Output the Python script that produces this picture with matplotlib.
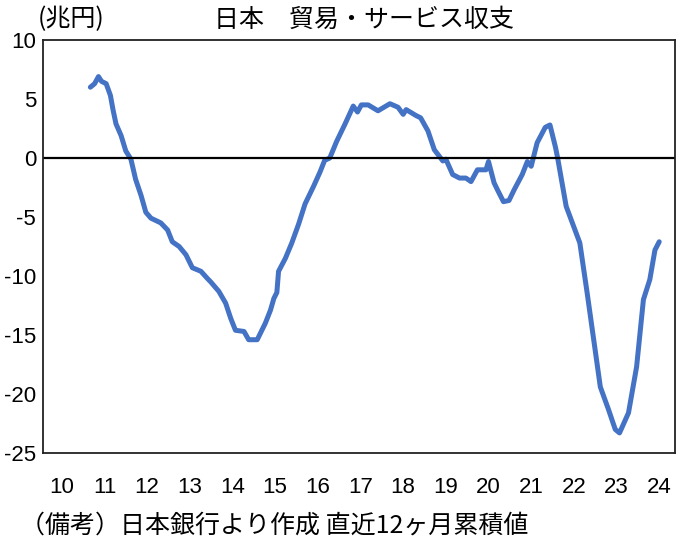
import matplotlib.pyplot as plt

# rolling 12-month trade & services balance (trillion yen)
years = [10.67, 10.77, 10.86, 10.93, 11.04, 11.14, 11.20, 11.27, 11.39, 11.50,
         11.62, 11.73, 11.86, 11.97, 12.09, 12.32, 12.48, 12.59, 12.75, 12.91,
         13.06, 13.26, 13.41, 13.49, 13.68, 13.84, 13.96, 14.07, 14.27, 14.38,
         14.58, 14.77, 14.89, 14.97, 15.04, 15.08, 15.24, 15.39, 15.55, 15.70,
         15.90, 16.05, 16.16, 16.28, 16.44, 16.64, 16.83, 16.93, 17.02, 17.18,
         17.41, 17.69, 17.88, 18.00, 18.07, 18.30, 18.41, 18.58, 18.73, 18.93,
         19.00, 19.16, 19.32, 19.47, 19.59, 19.74, 19.94, 20.00, 20.13, 20.21,
         20.35, 20.48, 20.60, 20.79, 20.91, 21.00, 21.14, 21.33, 21.44, 21.57,
         21.62, 21.82, 22.14, 22.31, 22.50, 22.62, 22.81, 22.97, 23.07, 23.28,
         23.47, 23.63, 23.78, 23.90, 24.00]
balance = [6.0, 6.3, 6.9, 6.5, 6.3, 5.3, 4.1, 2.9, 1.9, 0.6,
           -0.1, -1.8, -3.2, -4.6, -5.1, -5.5, -6.1, -7.1, -7.5, -8.2,
           -9.3, -9.6, -10.2, -10.5, -11.3, -12.3, -13.6, -14.6, -14.7, -15.4,
           -15.4, -14.0, -12.9, -11.9, -11.4, -9.6, -8.5, -7.2, -5.6, -3.9,
           -2.4, -1.2, -0.2, 0.0, 1.4, 2.9, 4.4, 3.9, 4.5, 4.5,
           4.0, 4.6, 4.3, 3.7, 4.1, 3.6, 3.4, 2.3, 0.7, -0.25,
           -0.1, -1.4, -1.7, -1.7, -2.0, -1.0, -1.0, -0.3, -2.1, -2.7,
           -3.7, -3.6, -2.7, -1.4, -0.3, -0.7, 1.3, 2.6, 2.8, 0.9,
           0.0, -4.1, -7.2, -11.4, -16.3, -19.4, -21.3, -23.0, -23.3, -21.6,
           -17.7, -12.0, -10.3, -7.8, -7.1]

xticks = list(range(10, 25))
yticks = [10, 5, 0, -5, -10, -15, -20, -25]

jp = ["Noto Sans CJK JP", "DejaVu Sans"]
num = ["Liberation Sans", "DejaVu Sans"]

fig = plt.figure(figsize=(6.87, 5.55), dpi=100)
ax = fig.add_axes([43 / 687, 1 - 453 / 555, 632 / 687, 413 / 555])

ax.plot(years, balance, color="#4472C4", linewidth=3.6, solid_capstyle="round",
        solid_joinstyle="round")
ax.axhline(0, color="black", linewidth=1.6)

ax.set_xlim(9.56, 24.37)
ax.set_ylim(-25, 10)
ax.set_xticks(xticks)
ax.set_xticklabels([str(t) for t in xticks], family=num, fontsize=16)
ax.set_yticks(yticks)
ax.set_yticklabels([str(t) for t in yticks], family=num, fontsize=16)
ax.tick_params(axis="both", length=0)
ax.tick_params(axis="x", pad=17)
ax.tick_params(axis="y", pad=5)
for s in ax.spines.values():
    s.set_linewidth(1.3)
    s.set_color("#222222")

fig.text(364 / 687, 0.965, "日本　貿易・サービス収支", family=jp, fontsize=18,
         ha="center", va="center")
fig.text(38 / 687, 0.965, "(兆円)", family=jp, fontsize=18,
         ha="left", va="center")
fig.text(20 / 687, 1 - 526 / 555, "（備考）日本銀行より作成 直近12ヶ月累積値",
         family=jp, fontsize=18, ha="left", va="center")

fig.savefig("out.png", dpi=100)
